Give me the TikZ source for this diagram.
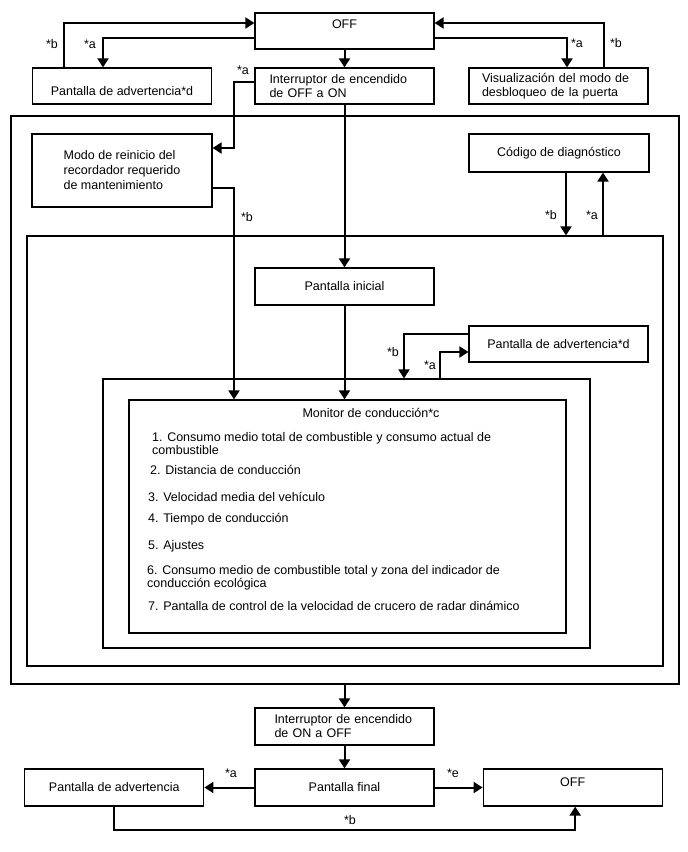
\documentclass[tikz,border=0pt]{standalone}
\usepackage{fontspec}
\setmainfont{Liberation Sans}
\usetikzlibrary{arrows.meta,positioning}

\begin{document}
\begin{tikzpicture}[x=1pt, y=-1pt, font=\fontsize{12.5}{14}\selectfont,
  box/.style={draw, line width=1.2pt, minimum width=179pt, minimum height=36pt, inner sep=3pt},
  frame/.style={draw, line width=1.2pt, inner sep=0pt},
  arr/.style={-{Triangle[length=9pt,width=11pt]}, line width=2pt},
  tag/.style={inner sep=0pt}]
\useasboundingbox (0,0) rectangle (688,852);

% top row
\node[box, text depth=14pt] (off1) at (344.5,31) {OFF};
\node[box, text height=19pt] (warnTop) at (122,86) {Pantalla de advertencia*d};
\node[box, text width=150pt, align=left] (ign1) at (344.5,86) {Interruptor de encendido\\de OFF a ON};
\node[box, text width=153pt, align=left] (doorMode) at (558.5,86) {Visualización del modo de\\desbloqueo de la puerta};

% frames
\node[frame, minimum width=668pt, minimum height=568pt] (onFrame) at (345,400) {};
\node[frame, minimum width=636pt, minimum height=430pt] (dispFrame) at (345,451) {};
\node[frame, minimum width=487pt, minimum height=269pt] (driveFrame) at (346.5,513.5) {};
\node[frame, minimum width=437pt, minimum height=233pt] (monitor) at (347.5,516.5) {};

\node[box, minimum width=180pt, minimum height=73pt, align=left,
  font=\fontsize{12.5}{15}\selectfont] (reset) at (122,170.5)
  {Modo de reinicio del\\recordador requerido\\de mantenimiento};
\node[box, minimum width=180pt, minimum height=38pt] (diag) at (559,153) {Código de diagnóstico};
\node[box, minimum height=37pt] (init) at (344.5,286.5) {Pantalla inicial};
\node[box] (warnMid) at (558.5,344) {Pantalla de advertencia*d};

% monitor contents
\node[tag] (title) at (371,413) {Monitor de conducción*c};
\begin{scope}[every node/.style={tag, anchor=west, align=left, font=\fontsize{12.5}{13}\selectfont}]
\node (item1) at (152,443.5) {1. Consumo medio total de combustible y consumo actual de\\combustible};
\node (item6) at (147,577.5) {6. Consumo medio de combustible total y zona del indicador de\\conducción ecológica};
\foreach \n/\x/\y/\t in {item2/150/470/{2. Distancia de conducción},
                         item3/148/497/{3. Velocidad media del vehículo},
                         item4/148/519/{4. Tiempo de conducción},
                         item5/148/546/{5. Ajustes},
                         item7/148/606/{7. Pantalla de control de la velocidad de crucero de radar dinámico}}
  \node (\n) at (\x,\y) {\t};
\end{scope}

% bottom rows
\node[box, minimum height=37pt, text width=140pt, align=left] (ign2) at (344.5,726.5) {Interruptor de encendido\\de ON a OFF};
\node[box, minimum height=37pt] (final) at (344.5,787.5) {Pantalla final};
\node[box, minimum height=37pt, left=50pt of final] (warnBot) {Pantalla de advertencia};
\node[box, minimum height=37pt, right=48pt of final, text depth=11pt] (off2) {OFF};

% connectors
\draw[arr] ([xshift=-58pt]warnTop.north) |- ([yshift=8pt]off1.west);
\draw[arr] ([yshift=-7pt]off1.west) -| ([xshift=-19pt]warnTop.north);
\draw[arr] (off1.south) -- (ign1.north);
\draw[arr] ([yshift=-7pt]off1.east) -| ([xshift=8.5pt]doorMode.north);
\draw[arr] ([xshift=45.5pt]doorMode.north) |- ([yshift=8pt]off1.east);
\draw[arr] ([yshift=4pt]ign1.west) -- ++(-20,0) |- ([yshift=22.5pt]reset.east);
\draw[arr] ([yshift=-17.5pt]reset.east) -| ([xshift=-113.5pt]monitor.north);
\draw[arr] (ign1.south) -- (init.north);
\draw[arr] ([xshift=7pt]diag.south) -- ([xshift=7pt]diag.south |- dispFrame.north);
\draw[arr] ([xshift=44pt]diag.south |- dispFrame.north) -- ([xshift=44pt]diag.south);
\draw[arr] (init.south) -- (init.south |- monitor.north);
\draw[arr] ([yshift=10pt]warnMid.west) -| ([xshift=57.5pt]driveFrame.north);
\draw[arr] ([xshift=93.5pt]driveFrame.north) |- ([yshift=-8pt]warnMid.west);
\draw[arr] (ign2.north |- onFrame.south) -- (ign2.north);
\draw[arr] (ign2.south) -- (final.north);
\draw[arr] (final.west) -- (warnBot.east);
\draw[arr] (final.east) -- (off2.west);
\draw[arr] (warnBot.south) -- ++(0,23) -| ([xshift=2.5pt]off2.south);

% connector tags
\foreach \n/\x/\y/\t in {tagB1/52/44/*b, tagA1/90/44/*a, tagA2/577/43/*a, tagB2/616/43/*b,
                         tagA3/243/70/*a, tagB3/247/217/*b, tagB4/551/215/*b, tagA4/592/215/*a,
                         tagB5/393/352/*b, tagA5/430/365/*a, tagA6/231/773/*a, tagE1/453/773/*e,
                         tagB6/350/820/*b}
  \node[tag] (\n) at (\x,\y) {\t};
\end{tikzpicture}
\end{document}
